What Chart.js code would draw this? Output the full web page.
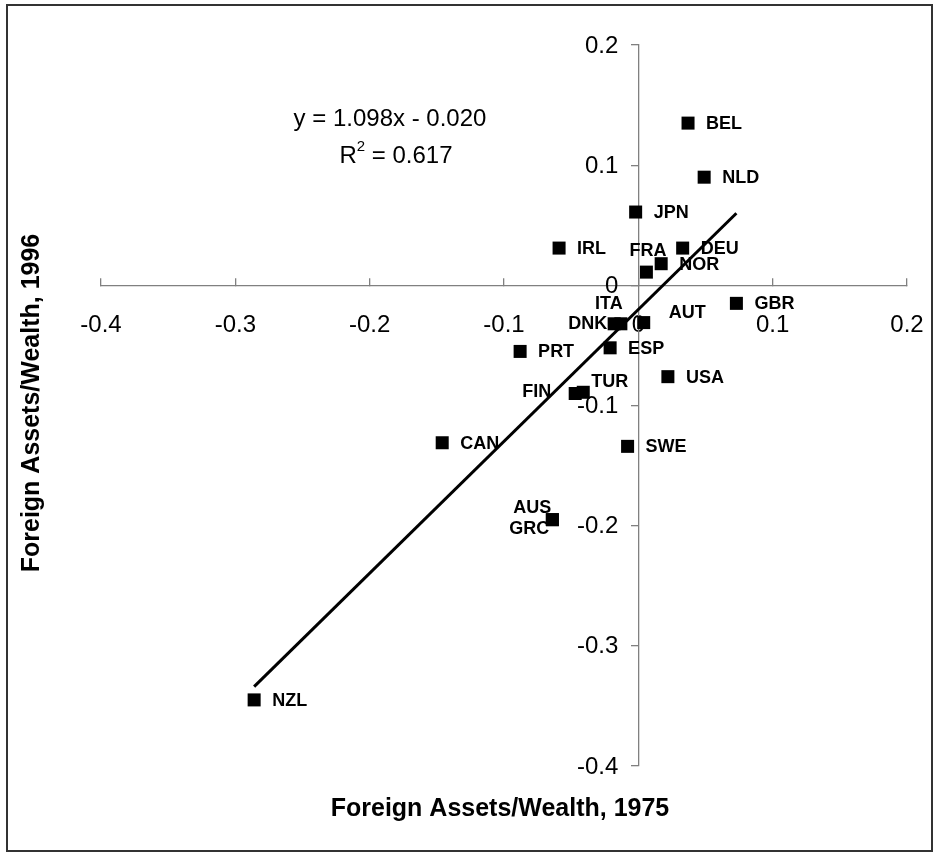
<!DOCTYPE html>
<html><head><meta charset="utf-8">
<script src="https://cdn.jsdelivr.net/npm/chart.js@4.4.1/dist/chart.umd.min.js"></script>
<style>html,body{margin:0;padding:0;background:#fff}#wrap{width:939px;height:856px;position:relative}canvas{display:block}</style>
</head><body><div id="wrap"><canvas id="c" width="939" height="856"></canvas></div>
<script>
// ---- data ----
const countries  = ['BEL','NLD','JPN','IRL','DEU','NOR','FRA','GBR','ITA','DNK','AUT','ESP','PRT','USA','TUR','FIN','SWE','CAN','AUS','GRC','NZL'];
const assets1975 = [0.037,0.049,-0.002,-0.059,0.033,0.017,0.006,0.073,-0.013,-0.018,0.004,-0.021,-0.088,0.022,-0.041,-0.047,-0.008,-0.146,-0.064,-0.064,-0.286];
const assets1996 = [0.135,0.090,0.061,0.031,0.031,0.018,0.011,-0.015,-0.032,-0.032,-0.031,-0.052,-0.055,-0.076,-0.089,-0.090,-0.134,-0.131,-0.195,-0.195,-0.345];
const trendX = [-0.286, 0.073];
const trendY = [-0.334, 0.060];
const xTickValues = [-0.4,-0.3,-0.2,-0.1,0,0.1,0.2];
const xTickLabels = ['-0.4','-0.3','-0.2','-0.1','0','0.1','0.2'];
const yTickValues = [-0.4,-0.3,-0.2,-0.1,0,0.1,0.2];
const yTickLabels = ['-0.4','-0.3','-0.2','-0.1','0','0.1','0.2'];
const equationText = 'y = 1.098x - 0.020';
const r2Text = ' = 0.617';
const xTitle = 'Foreign Assets/Wealth, 1975';
const yTitle = 'Foreign Assets/Wealth, 1996';

// ---- label placement (style, not data) ----
const labelPlacement = {
  FRA: {align:'left',  dx:-17, dy:-21},
  ITA: {align:'center',dx:-12, dy:-20},
  DNK: {align:'right', dx:-7,  dy:0},
  AUT: {align:'left',  dx:25,  dy:-10},
  FIN: {align:'right', dx:-24, dy:-1},
  TUR: {align:'left',  dx:8,   dy:-10},
  AUS: {align:'right', dx:-1,  dy:-12},
  GRC: {align:'right', dx:-3,  dy:9}
};
const FONT = '"Liberation Sans", Arial, sans-serif';
const TICK_FONT_SIZE = 24;

const decor = {
  id: 'decor',
  beforeDraw(chart) {
    const ctx = chart.ctx;
    ctx.save();
    ctx.fillStyle = '#fff';
    ctx.fillRect(0, 0, chart.width, chart.height);
    ctx.strokeStyle = '#333';
    ctx.lineWidth = 2;
    ctx.strokeRect(7, 5, 925, 846);
    ctx.restore();
  },
  beforeDatasetsDraw(chart) {
    // y tick labels, placed left of the zero-crossing y axis
    const ctx = chart.ctx;
    const ys = chart.scales.y, xs = chart.scales.x;
    const axisX = xs.getPixelForValue(0);
    ctx.save();
    ctx.fillStyle = '#000';
    ctx.font = TICK_FONT_SIZE + 'px ' + FONT;
    ctx.textAlign = 'right';
    ctx.textBaseline = 'middle';
    yTickValues.forEach((v, i) => {
      ctx.fillText(yTickLabels[i], axisX - 20, ys.getPixelForValue(v) + 1);
    });
    ctx.restore();
  },
  afterDatasetsDraw(chart) {
    const ctx = chart.ctx;
    const meta = chart.getDatasetMeta(1);
    ctx.save();
    ctx.fillStyle = '#000';
    ctx.font = 'bold 18px ' + FONT;
    ctx.textBaseline = 'middle';
    meta.data.forEach((pt, i) => {
      const name = countries[i];
      const p = labelPlacement[name] || {align:'left', dx:18, dy:1};
      ctx.textAlign = p.align;
      ctx.fillText(name, pt.x + p.dx, pt.y + p.dy);
    });
    ctx.restore();
  },
  afterDraw(chart) {
    const ctx = chart.ctx;
    ctx.save();
    ctx.fillStyle = '#000';
    ctx.textBaseline = 'middle';
    ctx.textAlign = 'center';
    // axis titles
    ctx.font = 'bold 25px ' + FONT;
    ctx.fillText(xTitle, 500, 809);
    ctx.save();
    ctx.translate(32, 403);
    ctx.rotate(-Math.PI / 2);
    ctx.fillText(yTitle, 0, 0);
    ctx.restore();
    // equation
    ctx.font = '24px ' + FONT;
    ctx.fillText(equationText, 390, 119);
    const wR = ctx.measureText('R').width;
    ctx.font = '15px ' + FONT;
    const w2 = ctx.measureText('2').width;
    ctx.font = '24px ' + FONT;
    const wRest = ctx.measureText(r2Text).width;
    const total = wR + w2 + wRest;
    let x0 = 396 - total / 2;
    ctx.textAlign = 'left';
    ctx.fillText('R', x0, 156);
    ctx.font = '15px ' + FONT;
    ctx.fillText('2', x0 + wR, 147);
    ctx.font = '24px ' + FONT;
    ctx.fillText(r2Text, x0 + wR + w2, 156);
    ctx.restore();
  }
};

const points = countries.map((c, i) => ({x: assets1975[i], y: assets1996[i]}));
const trend = trendX.map((x, i) => ({x: x, y: trendY[i]}));

new Chart(document.getElementById('c'), {
  type: 'scatter',
  data: {
    datasets: [
      {
        data: trend, showLine: true, borderColor: '#000', borderWidth: 3,
        pointRadius: 0, fill: false
      },
      {
        data: points, pointStyle: 'rect', pointRadius: 9.2,
        backgroundColor: '#000', borderWidth: 0, showLine: false
      }
    ]
  },
  options: {
    responsive: false,
    animation: false,
    events: [],
    layout: {padding: {left: 101, right: 32, top: 45, bottom: 90}},
    plugins: {legend: {display: false}, tooltip: {enabled: false}},
    scales: {
      x: {
        type: 'linear', min: -0.4, max: 0.2,
        position: {y: 0},
        afterFit: s => { s.height = 0; s.paddingLeft = 0; s.paddingRight = 0; s.paddingTop = 0; s.paddingBottom = 0; },
        afterBuildTicks: s => { s.ticks = xTickValues.map(v => ({value: v})); },
        grid: {drawOnChartArea: false, drawTicks: true, tickLength: -8, color: '#808080', lineWidth: 1.3},
        border: {display: true, color: '#808080', width: 1.3},
        ticks: {
          autoSkip: false, maxRotation: 0, padding: 34, color: '#000',
          font: {family: FONT, size: TICK_FONT_SIZE},
          callback: (v, i) => xTickLabels[i]
        }
      },
      y: {
        type: 'linear', min: -0.4, max: 0.2,
        position: {x: 0},
        afterFit: s => { s.width = 0; s.paddingLeft = 0; s.paddingRight = 0; s.paddingTop = 0; s.paddingBottom = 0; },
        afterBuildTicks: s => { s.ticks = yTickValues.map(v => ({value: v})); },
        grid: {drawOnChartArea: false, drawTicks: true, tickLength: 7, color: '#808080', lineWidth: 1.3},
        border: {display: true, color: '#808080', width: 1.3},
        ticks: { display: false }
      }
    }
  },
  plugins: [decor]
});
</script>
</body></html>
